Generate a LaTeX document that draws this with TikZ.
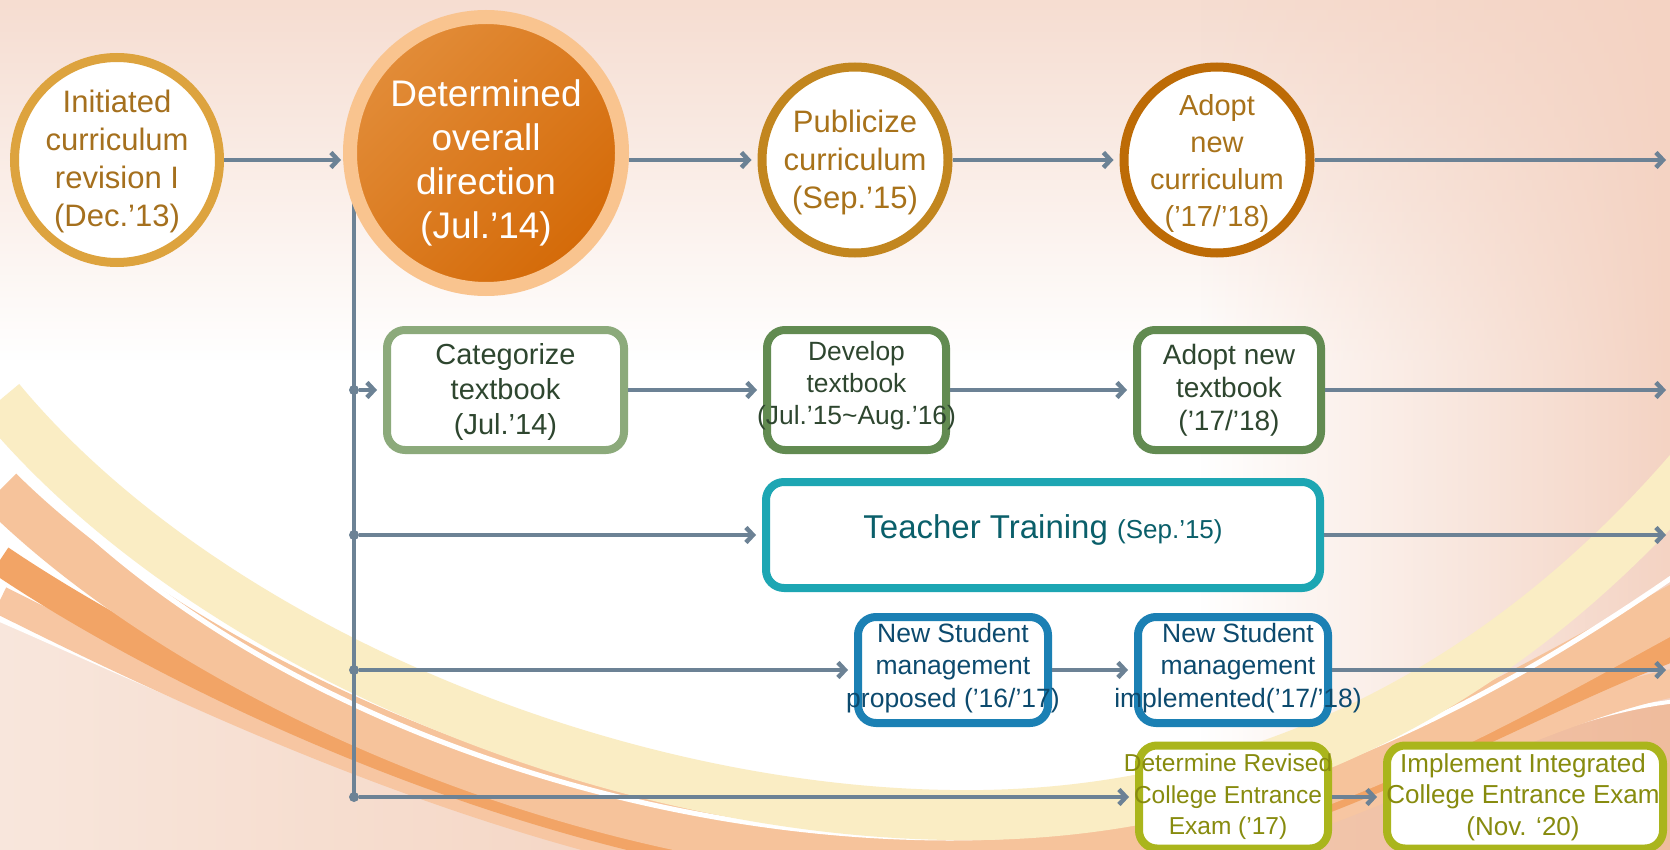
\documentclass[tikz,border=0pt]{standalone}
\usepackage{fontspec}
\setmainfont{Liberation Sans}
\usetikzlibrary{arrows.meta,fadings}
\definecolor{arrowc}{HTML}{6C8295}
\definecolor{bgtop}{HTML}{F6DDD1}
\definecolor{bgright}{HTML}{F4D3C3}
\definecolor{bgll}{HTML}{F8E6DC}
\definecolor{bgmid}{HTML}{E9AB84}
\definecolor{bgrr}{HTML}{EFBB9C}
\definecolor{bandyellow}{HTML}{FAEDC4}
\definecolor{bandpeach}{HTML}{F6C39B}
\definecolor{bandorange}{HTML}{F2A466}
\definecolor{bandlight}{HTML}{F7C6A2}
\definecolor{c1b}{HTML}{DDA33E}
\definecolor{c1t}{HTML}{A5701E}
\definecolor{c2ring}{HTML}{F9C48F}
\definecolor{c2a}{HTML}{E28C38}
\definecolor{c2b}{HTML}{D46A08}
\definecolor{pubb}{HTML}{C2861F}
\definecolor{pubt}{HTML}{A8721A}
\definecolor{adob}{HTML}{BD6B06}
\definecolor{catb}{HTML}{8CAA7B}
\definecolor{devb}{HTML}{628B51}
\definecolor{greent}{HTML}{2E462F}
\definecolor{teachb}{HTML}{1DA6B3}
\definecolor{teacht}{HTML}{0A5F6A}
\definecolor{nsmb}{HTML}{1B80B4}
\definecolor{nsmt}{HTML}{0C4A6E}
\definecolor{ceeb}{HTML}{AAB51C}
\definecolor{ceet}{HTML}{878B0E}
\begin{document}
\begin{tikzpicture}[x=1pt,y=-1pt,
  circ/.style={circle, draw, line width=9pt, fill=white, inner sep=0pt},
  boxx/.style={rectangle, rounded corners=18pt, draw, line width=8pt, fill=white, inner sep=0pt},
  txt/.style={align=center, inner sep=0pt},
  arr/.style={draw=arrowc, line width=4.5pt, -{Straight Barb[length=7pt,width=15pt]}, shorten >=6pt},
  arrfree/.style={draw=arrowc, line width=4.5pt, -{Straight Barb[length=7pt,width=15pt]}},
  jdot/.style={circle, fill=arrowc, inner sep=0pt, minimum size=10pt}]
\useasboundingbox (0,0) rectangle (1670,850);
% ---------- background ----------
\begin{scope}
\clip (0,0) rectangle (1670,850);
\fill[white] (0,0) rectangle (1670,850);
\fill[bgtop, path fading=south] (0,0) rectangle (1670,360);
\fill[bgright, path fading=west] (1200,0) rectangle (1670,850);
% lower-left / lower-right filled area
\shade[left color=bgll, middle color=bgmid, right color=bgrr]
  (0,620) .. controls (200,707) and (600,900) .. (950,900) .. controls (1250,900) and (1500,712) .. (1690,700)
  -- (1690,870) -- (0,870) -- cycle;
\draw[white, line width=4pt]
  (0,620) .. controls (200,707) and (600,900) .. (950,900) .. controls (1250,900) and (1500,712) .. (1690,700);
\draw[bandlight, line width=28pt]
  (0,600) .. controls (200,700) and (600,892) .. (950,892) .. controls (1250,892) and (1500,710) .. (1690,680);
\draw[bandorange, line width=30pt]
  (0,560) .. controls (200,695) and (600,878) .. (950,878) .. controls (1250,878) and (1500,706) .. (1690,640);
\draw[bandpeach, line width=46pt]
  (0,490) .. controls (200,688) and (600,858) .. (950,858) .. controls (1250,858) and (1500,702) .. (1690,600);
\draw[white, line width=5pt]
  (0,440) .. controls (200,690) and (600,838) .. (950,838) .. controls (1250,838) and (1500,698) .. (1690,565);
\draw[bandyellow, line width=50pt]
  (0,400) .. controls (200,641) and (600,810) .. (950,815) .. controls (1250,820) and (1500,690) .. (1690,470);
\end{scope}
% ---------- trunk ----------
\coordinate (t0) at (354,200);
\coordinate (t5) at (354,797);
\draw[arrowc, line width=4.5pt] (t0) -- (t5);
% ---------- top row ----------
\node[circ, draw=c1b, minimum size=205pt] (c1) at (117,160) {};
\node[circle, line width=14pt, draw=c2ring, top color=c2a, bottom color=c2b, shading angle=45, inner sep=0pt, minimum size=272pt] (c2) at (486,153) {};
\node[circ, draw=pubb, minimum size=186pt] (pub) at (855,160) {};
\node[circ, draw=adob, minimum size=186pt] (ado) at (1217,160) {};
\node[txt, text=c1t, font={\fontsize{31}{38}\selectfont}] (c1t) at (117,161) {Initiated\\curriculum\\revision I\\(Dec.’13)};
\node[txt, text=white, font={\fontsize{37}{44}\selectfont}] (c2t) at (486,163) {Determined\\overall\\direction\\(Jul.’14)};
\node[txt, text=pubt, font={\fontsize{31}{38}\selectfont}] (pubt) at (855,162) {Publicize\\curriculum\\(Sep.’15)};
\node[txt, text=pubt, font={\fontsize{29}{37}\selectfont}] (adot) at (1217,163) {Adopt\\new\\curriculum\\(’17/’18)};
% ---------- junction dots ----------
\node[jdot] (j2) at (354,390) {};
\node[jdot] (j3) at (354,535) {};
\node[jdot] (j4) at (354,670) {};
\node[jdot] (j5) at (354,797) {};
% ---------- boxes ----------
\node[boxx, draw=catb, minimum width=237pt, minimum height=120pt] (cat) at (505.5,390) {};
\node[boxx, draw=devb, minimum width=179pt, minimum height=120pt] (dev) at (856.5,390) {};
\node[boxx, draw=devb, minimum width=184pt, minimum height=120pt] (atb) at (1229,390) {};
\node[boxx, draw=teachb, minimum width=554pt, minimum height=106pt] (teach) at (1043,535) {};
\node[boxx, draw=nsmb, minimum width=190pt, minimum height=106pt] (nsm1) at (953,670) {};
\node[boxx, draw=nsmb, minimum width=190pt, minimum height=106pt] (nsm2) at (1233,670) {};
\node[boxx, draw=ceeb, minimum width=189pt, minimum height=103pt] (cee1) at (1233.5,797) {};
\node[boxx, draw=ceeb, minimum width=276pt, minimum height=103pt] (cee2) at (1525,797) {};
% ---------- box texts ----------
\node[txt, text=greent, font={\fontsize{29}{35}\selectfont}] (catt) at (505.5,392) {Categorize\\textbook\\(Jul.’14)};
\node[txt, text=greent, font={\fontsize{26.4}{32}\selectfont}] (devt) at (856.5,386) {Develop\\textbook\\(Jul.’15\textasciitilde Aug.’16)};
\node[txt, text=greent, font={\fontsize{28}{33}\selectfont}] (atbt) at (1229,390) {Adopt new\\textbook\\(’17/’18)};
\node[txt, text=teacht, font={\fontsize{33}{40}\selectfont}] (teacht) at (1043,530) {Teacher Training {\fontsize{26}{30}\selectfont (Sep.’15)}};
\node[txt, text=nsmt, font={\fontsize{26.5}{32.5}\selectfont}] (nsm1t) at (953,668) {New Student\\management\\proposed (’16/’17)};
\node[txt, text=nsmt, font={\fontsize{26.5}{32.5}\selectfont}] (nsm2t) at (1238,668) {New Student\\management\\implemented(’17/’18)};
\node[txt, text=ceet, font={\fontsize{24.5}{31.5}\selectfont}] (cee1t) at (1228,797) {Determine Revised\\College Entrance\\Exam (’17)};
\node[txt, text=ceet, font={\fontsize{26}{31.5}\selectfont}] (cee2t) at (1523,797) {Implement Integrated\\College Entrance Exam\\(Nov. ‘20)};
% ---------- free ends ----------
\coordinate (e1) at (1666,160);
\coordinate (e2) at (1666,390);
\coordinate (e3) at (1666,535);
\coordinate (e4) at (1666,670);
% ---------- connectors ----------
\draw[arr, shorten >=2pt] (c1.east) -- (c1.east -| c2.west);
\draw[arr] (c2.east |- pub.west) -- (pub.west);
\draw[arr] (pub) -- (ado);
\draw[arrfree] (ado) -- (e1);
\draw[arr] (j2) -- (cat);
\draw[arr] (cat) -- (dev);
\draw[arr] (dev) -- (atb);
\draw[arrfree] (atb) -- (e2);
\draw[arr] (j3) -- (teach);
\draw[arrfree] (teach) -- (e3);
\draw[arr] (j4) -- (nsm1);
\draw[arr] (nsm1) -- (nsm2);
\draw[arrfree] (nsm2) -- (e4);
\draw[arr] (j5) -- (cee1);
\draw[arr] (cee1) -- (cee2);
\end{tikzpicture}
\end{document}
